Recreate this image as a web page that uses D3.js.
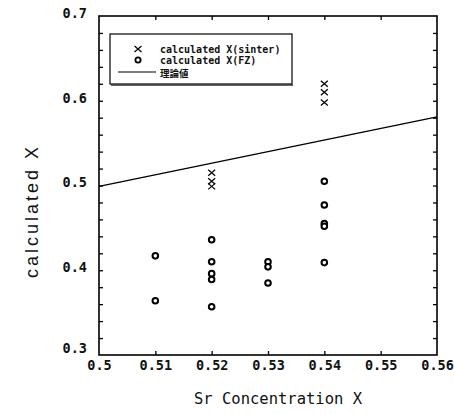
<!DOCTYPE html>
<html>
<head>
<meta charset="utf-8">
<script src="https://cdn.jsdelivr.net/npm/d3@7"></script>
<style>
  body { margin: 0; background: #fff; }
  svg { display: block; }
  .tick text { font-family: "DejaVu Sans Mono", monospace; font-weight: bold; }
</style>
</head>
<body>
<script>
const width = 454
const height = 414
const plot = { left: 99, right: 437, top: 16, bottom: 355 }

// data
const sinterX = [0.52, 0.52, 0.52, 0.54, 0.54, 0.54]
const sinterY = [0.515, 0.505, 0.499, 0.620, 0.610, 0.598]
const fzX = [0.51, 0.51, 0.52, 0.52, 0.52, 0.52, 0.52, 0.53, 0.53, 0.53, 0.54, 0.54, 0.54, 0.54, 0.54]
const fzY = [0.417, 0.364, 0.436, 0.410, 0.396, 0.389, 0.357, 0.410, 0.404, 0.385, 0.505, 0.477, 0.455, 0.452, 0.409]
const theoryX = [0.5, 0.56]
const theoryY = [0.499, 0.581]
const xTicks = [0.5, 0.51, 0.52, 0.53, 0.54, 0.55, 0.56]
const yLabelTicks = [0.3, 0.4, 0.5, 0.6, 0.7]
const yMinorTicks = [0.32, 0.34, 0.36, 0.38, 0.4, 0.42, 0.44, 0.46, 0.48, 0.5, 0.52, 0.54, 0.56, 0.58, 0.6, 0.62, 0.64, 0.66, 0.68]
const legendLabels = ['calculated X(sinter)', 'calculated X(FZ)', '理論値']

const x = d3.scaleLinear().domain([0.5, 0.56]).range([plot.left, plot.right])
const y = d3.scaleLinear().domain([0.3, 0.7]).range([plot.bottom, plot.top])

const svg = d3.select('body').append('svg')
  .attr('width', width)
  .attr('height', height)

const fmt = d => String(+d.toFixed(2))

// tick marks (inward)
const tickAxes = [
  [d3.axisBottom(x).tickValues(xTicks.slice(1, -1)), `translate(0,${plot.bottom})`, -4],
  [d3.axisTop(x).tickValues(xTicks.slice(1, -1)), `translate(0,${plot.top})`, -4],
  [d3.axisLeft(y).tickValues(yMinorTicks), `translate(${plot.left},0)`, -4],
  [d3.axisRight(y).tickValues(yMinorTicks), `translate(${plot.right},0)`, -4]
]
tickAxes.forEach(([ax, tr, size]) => {
  const g = svg.append('g')
    .attr('transform', tr)
    .call(ax.tickSize(size).tickFormat(''))
  g.select('.domain').remove()
  g.selectAll('line').attr('stroke', '#000').attr('stroke-width', 1.3)
})

// tick labels
const xLab = svg.append('g')
  .attr('transform', `translate(0,${plot.bottom + 2})`)
  .call(d3.axisBottom(x).tickValues(xTicks).tickSize(0).tickFormat(fmt))
xLab.select('.domain').remove()
xLab.selectAll('text').attr('font-size', 13.5).attr('fill', '#111')

const yLab = svg.append('g')
  .attr('transform', `translate(${plot.left - 9},0)`)
  .call(d3.axisLeft(y).tickValues(yLabelTicks).tickSize(0).tickFormat(fmt))
yLab.select('.domain').remove()
yLab.selectAll('text').attr('font-size', 13.5).attr('fill', '#111')
  .attr('dy', d => d === 0.3 ? '-0.15em' : '0.1em')

// frame
svg.append('rect')
  .attr('x', plot.left).attr('y', plot.top)
  .attr('width', plot.right - plot.left).attr('height', plot.bottom - plot.top)
  .attr('fill', 'none').attr('stroke', '#000').attr('stroke-width', 1.6)

// theory line
svg.append('path')
  .datum(theoryX.map((d, i) => [d, theoryY[i]]))
  .attr('d', d3.line().x(d => x(d[0])).y(d => y(d[1])))
  .attr('fill', 'none').attr('stroke', '#000').attr('stroke-width', 1.4)

const cross = (sel, cx, cy) => {
  sel.append('path')
    .attr('d', `M${cx - 3.5},${cy - 3}L${cx + 3.5},${cy + 3}M${cx + 3.5},${cy - 3}L${cx - 3.5},${cy + 3}`)
    .attr('stroke', '#000').attr('stroke-width', 1.2).attr('fill', 'none')
}

// sinter points
const sinterG = svg.append('g')
sinterX.forEach((d, i) => cross(sinterG, x(d), y(sinterY[i])))

// FZ points
svg.append('g')
  .selectAll('circle')
  .data(fzX.map((d, i) => [d, fzY[i]]))
  .enter()
  .append('circle')
  .attr('cx', d => x(d[0]))
  .attr('cy', d => y(d[1]))
  .attr('r', 2.8)
  .attr('fill', '#fff')
  .attr('stroke', '#000')
  .attr('stroke-width', 2)

// legend
const legend = svg.append('g').attr('transform', 'translate(110,34)')
legend.append('rect')
  .attr('width', 182).attr('height', 50)
  .attr('fill', '#fff').attr('stroke', '#000').attr('stroke-width', 1.2)
legend.append('line')
  .attr('x1', 1).attr('x2', 183).attr('y1', 51).attr('y2', 51)
  .attr('stroke', '#333').attr('stroke-width', 1.6)
cross(legend, 28, 15)
legend.append('circle')
  .attr('cx', 28).attr('cy', 26).attr('r', 2.6)
  .attr('fill', '#fff').attr('stroke', '#000').attr('stroke-width', 1.8)
legend.append('line')
  .attr('x1', 8).attr('x2', 46).attr('y1', 38).attr('y2', 38)
  .attr('stroke', '#000').attr('stroke-width', 1.2)
legend.selectAll('text')
  .data(legendLabels)
  .enter()
  .append('text')
  .attr('x', 50)
  .attr('y', (d, i) => [19, 29.5, 43][i])
  .attr('font-family', (d, i) => i === 2 ? '"Noto Sans CJK JP", sans-serif' : '"DejaVu Sans Mono", monospace')
  .attr('font-weight', 'bold')
  .attr('font-size', (d, i) => i === 2 ? 9.5 : 10)
  .attr('fill', '#111')
  .text(d => d)

// axis titles
svg.append('text')
  .attr('x', (plot.left + plot.right) / 2 + 10)
  .attr('y', 404)
  .attr('text-anchor', 'middle')
  .attr('font-family', '"DejaVu Sans Mono", monospace')
  .attr('font-size', 15.5)
  .attr('fill', '#111')
  .text('Sr Concentration X')

svg.append('text')
  .attr('transform', `translate(38,211) rotate(-90)`)
  .attr('text-anchor', 'middle')
  .attr('font-family', '"Liberation Sans", Arial, sans-serif')
  .attr('font-size', 18)
  .attr('letter-spacing', 3)
  .attr('fill', '#111')
  .text('calculated X')
</script>
</body>
</html>
